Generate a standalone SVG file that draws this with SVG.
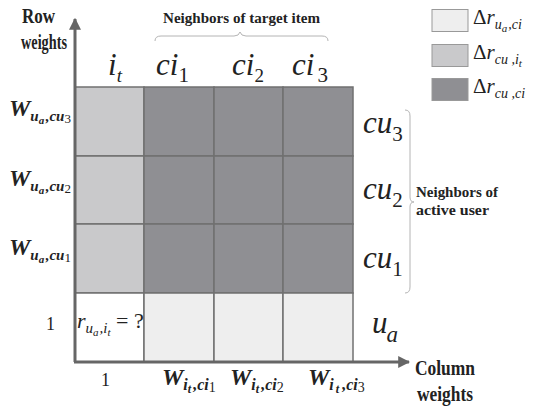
<svg xmlns="http://www.w3.org/2000/svg" width="533" height="412" viewBox="0 0 533 412">
<defs>
<style>
.lt{fill:#eeeeee}.md{fill:#c9c9cb}.dk{fill:#8f8f93}
.cell{stroke:#707070;stroke-width:1.5}
.ax{stroke:#666;stroke-width:3;fill:none}
.br{stroke:#b4b4b4;stroke-width:1;fill:none}
text{font-family:'Liberation Serif','Times New Roman',Tinos,serif;fill:#222}
.lab{font-weight:bold}
.it{font-style:italic}
.w{font-style:italic;font-weight:bold}
.n{font-style:normal;font-weight:normal}
</style>
<marker id="ah" viewBox="0 0 10 10" refX="9" refY="5" markerWidth="4" markerHeight="4" orient="auto" markerUnits="strokeWidth">
<path d="M0,0 L10,5 L0,10 Z" fill="#666"/>
</marker>
</defs>
<rect width="533" height="412" fill="#fff"/>

<g id="grid">
<rect class="md cell" x="75" y="87" width="69" height="69"/>
<rect class="dk cell" x="144" y="87" width="70" height="69"/>
<rect class="dk cell" x="214" y="87" width="69" height="69"/>
<rect class="dk cell" x="283" y="87" width="70" height="69"/>
<rect class="md cell" x="75" y="156" width="69" height="68"/>
<rect class="dk cell" x="144" y="156" width="70" height="68"/>
<rect class="dk cell" x="214" y="156" width="69" height="68"/>
<rect class="dk cell" x="283" y="156" width="70" height="68"/>
<rect class="md cell" x="75" y="224" width="69" height="69"/>
<rect class="dk cell" x="144" y="224" width="70" height="69"/>
<rect class="dk cell" x="214" y="224" width="69" height="69"/>
<rect class="dk cell" x="283" y="224" width="70" height="69"/>
<rect fill="#fff" class="cell" x="75" y="293" width="69" height="69"/>
<rect class="lt cell" x="144" y="293" width="70" height="69"/>
<rect class="lt cell" x="214" y="293" width="69" height="69"/>
<rect class="lt cell" x="283" y="293" width="70" height="69"/>
</g>

<g id="axes">
<path class="ax" d="M75,362 L75,19" marker-end="url(#ah)"/>
<path class="ax" d="M74,362 L409,362" marker-end="url(#ah)"/>
</g>

<g id="braces">
<path class="br" d="M155,41 Q155,36 161,36 L234,36 Q239,36 240,32 Q241,36 246,36 L322,36 Q328,36 328,41"/>
<path class="br" d="M405,110 Q410,110 410,116 L410,197 Q410,202 414,202 Q410,202 410,207 L410,287 Q410,293 405,293"/>
</g>

<g id="axis-titles">
<text class="lab" x="22" y="23" font-size="21" textLength="33" lengthAdjust="spacingAndGlyphs">Row</text>
<text class="lab" x="21" y="49" font-size="21" textLength="46" lengthAdjust="spacingAndGlyphs">weights</text>
<text class="lab" x="415" y="375" font-size="22" textLength="60" lengthAdjust="spacingAndGlyphs">Column</text>
<text class="lab" x="417" y="401" font-size="22" textLength="56" lengthAdjust="spacingAndGlyphs">weights</text>
<text class="lab" x="163" y="23" font-size="15" textLength="157" lengthAdjust="spacingAndGlyphs">Neighbors of target item</text>
<text class="lab" x="416" y="197" font-size="15" textLength="82" lengthAdjust="spacingAndGlyphs">Neighbors of</text>
<text class="lab" x="416" y="215" font-size="15" textLength="73" lengthAdjust="spacingAndGlyphs">active user</text>
</g>

<g id="col-headers">
<text class="it" x="108" y="75" font-size="31">i<tspan font-size="19" dy="7">t</tspan></text>
<text class="it" x="156" y="75" font-size="31">ci<tspan class="n" font-size="21" dy="7">1</tspan></text>
<text class="it" x="232" y="75" font-size="31">ci<tspan class="n" font-size="19" dy="7">2</tspan></text>
<text class="it" x="292" y="75" font-size="31">ci<tspan class="n" font-size="21" dy="7" dx="3">3</tspan></text>
</g>

<g id="row-labels">
<text class="it" x="363" y="133" font-size="31">cu<tspan class="n" font-size="21" dy="8">3</tspan></text>
<text class="it" x="363" y="199" font-size="31">cu<tspan class="n" font-size="21" dy="8">2</tspan></text>
<text class="it" x="363" y="268" font-size="31">cu<tspan class="n" font-size="21" dy="8">1</tspan></text>
<text class="it" x="372" y="333" font-size="31">u<tspan font-size="23" dy="9" dx="-1">a</tspan></text>
</g>

<g id="row-weights">
<text class="w" x="9" y="116" font-size="24">W<tspan font-size="15" dy="5">u</tspan><tspan font-size="11" dy="3">a</tspan><tspan font-size="15" dy="-3" dx="1.5">,cu</tspan><tspan class="n" font-size="13" dy="2">3</tspan></text>
<text class="w" x="9" y="186" font-size="24">W<tspan font-size="15" dy="5">u</tspan><tspan font-size="11" dy="3">a</tspan><tspan font-size="15" dy="-3" dx="1.5">,cu</tspan><tspan class="n" font-size="13" dy="2">2</tspan></text>
<text class="w" x="9" y="255" font-size="24">W<tspan font-size="15" dy="5">u</tspan><tspan font-size="11" dy="3">a</tspan><tspan font-size="15" dy="-3" dx="1.5">,cu</tspan><tspan class="n" font-size="13" dy="2">1</tspan></text>
<text x="46" y="330" font-size="18">1</text>
</g>

<g id="col-weights">
<text x="101" y="386" font-size="18">1</text>
<text class="w" x="162" y="385" font-size="24">W<tspan font-size="16" dy="5">i</tspan><tspan font-size="12" dy="3">t</tspan><tspan font-size="16" dy="-3" dx="2">,ci</tspan><tspan class="n" font-size="14" dy="2">1</tspan></text>
<text class="w" x="230" y="385" font-size="24">W<tspan font-size="16" dy="5">i</tspan><tspan font-size="12" dy="3">t</tspan><tspan font-size="16" dy="-3" dx="2">,ci</tspan><tspan class="n" font-size="14" dy="2">2</tspan></text>
<text class="w" x="308" y="385" font-size="24">W<tspan font-size="16" dy="5">i</tspan><tspan font-size="12" dy="3" dx="2">t</tspan><tspan font-size="16" dy="-3" dx="3">,ci</tspan><tspan class="n" font-size="14" dy="2">3</tspan></text>
</g>

<g id="query">
<text class="it" x="77" y="328" font-size="22">r<tspan font-size="15" dy="5">u</tspan><tspan font-size="11" dy="3">a</tspan><tspan font-size="15" dy="-3" dx="1">,i</tspan><tspan font-size="11" dy="3">t</tspan></text>
<text x="116" y="328" font-size="22">= ?</text>
</g>

<g id="legend">
<rect class="lt" x="432" y="9.5" width="36" height="22" stroke="#999" stroke-width="1"/>
<rect class="md" x="432" y="44.5" width="36" height="22" stroke="#999" stroke-width="1"/>
<rect class="dk" x="432" y="78.5" width="36" height="22" stroke="#999" stroke-width="1"/>
<text x="473" y="24" font-size="21">Δ<tspan font-style="italic">r</tspan><tspan font-style="italic" font-size="14" dy="5">u</tspan><tspan font-style="italic" font-size="11" dy="3">a</tspan><tspan font-style="italic" font-size="14" dy="-3" dx="1">,ci</tspan></text>
<text x="473" y="59" font-size="21">Δ<tspan font-style="italic">r</tspan><tspan font-style="italic" font-size="14" dy="5">cu ,i</tspan><tspan font-style="italic" font-size="11" dy="3">t</tspan></text>
<text x="473" y="93" font-size="21">Δ<tspan font-style="italic">r</tspan><tspan font-style="italic" font-size="14" dy="5">cu ,ci</tspan></text>
</g>
</svg>
